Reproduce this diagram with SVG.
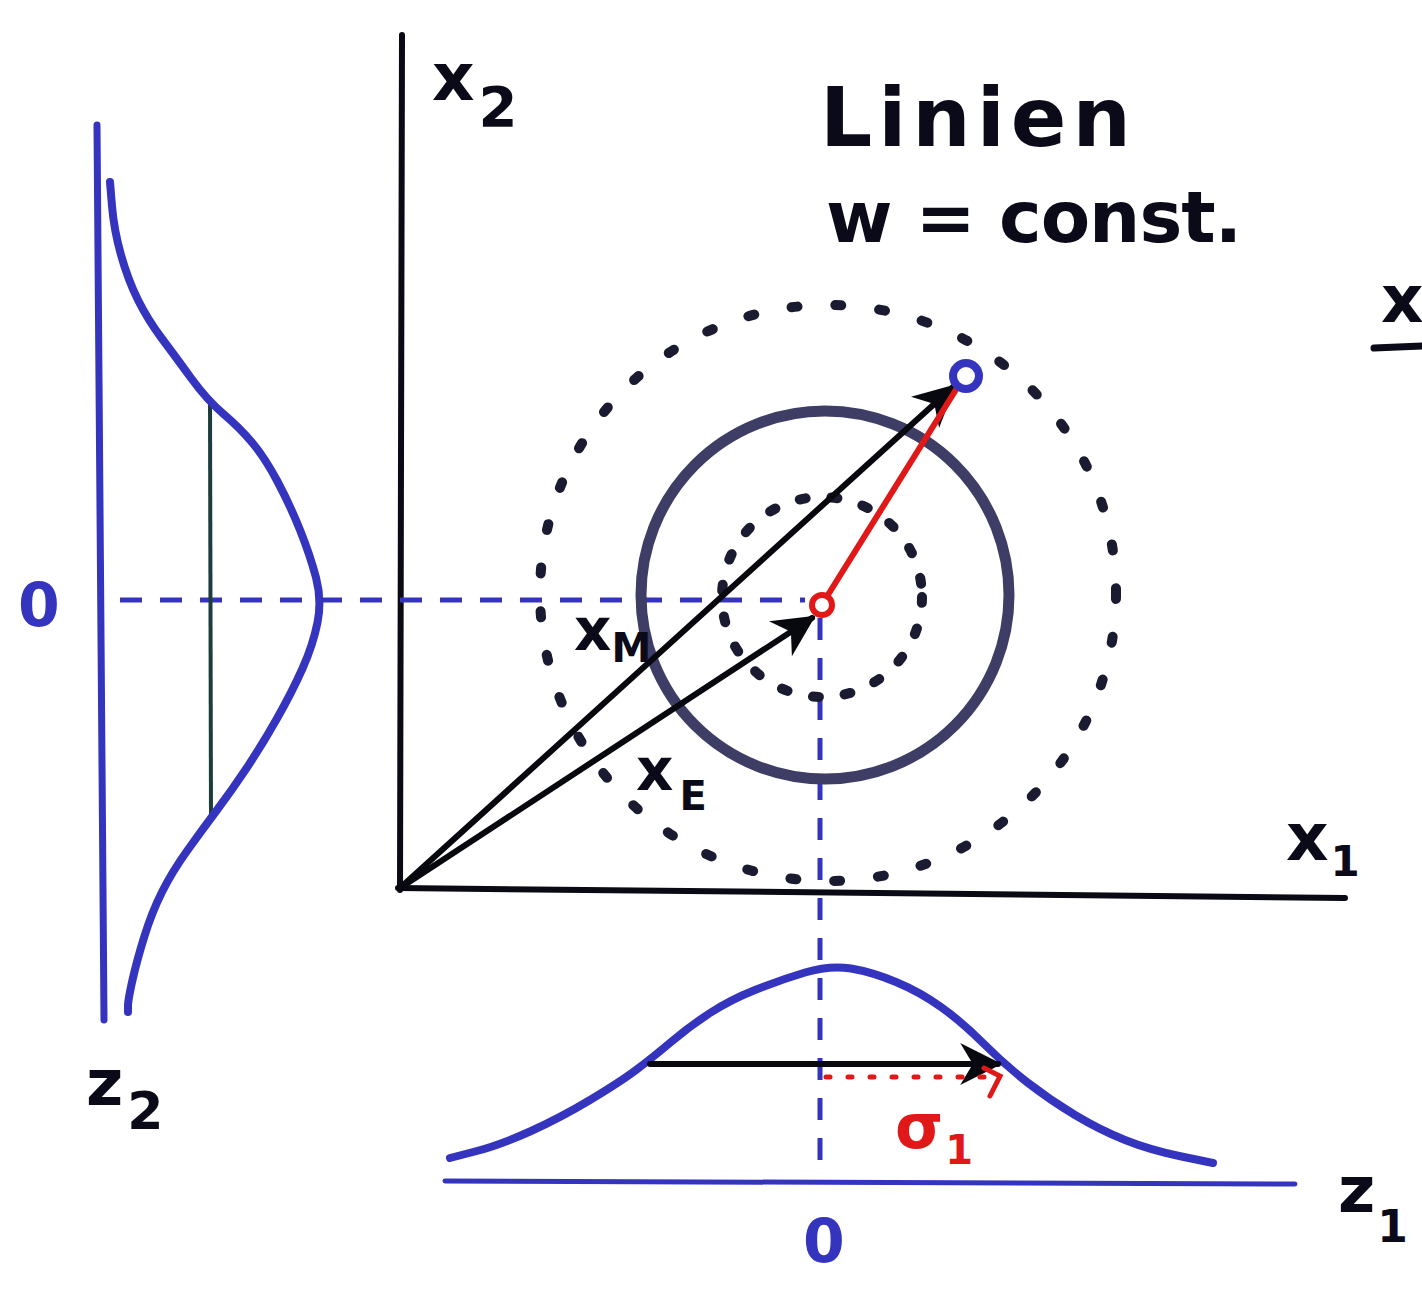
<svg xmlns="http://www.w3.org/2000/svg" width="1422" height="1292" viewBox="0 0 1422 1292">
<defs>
<style>
.ax{stroke:#0a0a14;stroke-width:6;fill:none;stroke-linecap:round}
.blue{stroke:#3434bf;fill:none;stroke-linecap:round;stroke-linejoin:round}
.bdash{stroke:#3434bf;stroke-width:5;fill:none;stroke-dasharray:22 18}
.dots{stroke:#1a1a30;fill:none;stroke-linecap:round}
.vec{stroke:#08080f;stroke-width:6;fill:none;stroke-linecap:round}
.t{font-family:"DejaVu Sans","Liberation Sans",sans-serif;font-weight:bold;fill:#0a0a18}
.tb{font-family:"DejaVu Sans","Liberation Sans",sans-serif;font-weight:bold;fill:#3434bf}
.tr{font-family:"DejaVu Sans","Liberation Sans",sans-serif;font-weight:bold;fill:#e01818}
</style>
<marker id="ah" viewBox="0 0 10 10" refX="9" refY="5" markerWidth="7" markerHeight="7" markerUnits="strokeWidth" orient="auto">
<path d="M0,0 L10,5 L0,10 L3,5 Z" fill="#08080f"/>
</marker>
</defs>
<rect width="1422" height="1292" fill="#ffffff"/>

<g id="axes">
<line class="ax" x1="402" y1="35" x2="400" y2="890"/>
<line class="ax" x1="398" y1="888" x2="1345" y2="898"/>
</g>

<g id="guides">
<line class="bdash" x1="120" y1="600" x2="805" y2="600"/>
<line class="bdash" x1="820" y1="618" x2="820" y2="1175"/>
</g>

<g id="circles">
<circle class="dots" cx="828" cy="593" r="288" stroke-width="10" stroke-dasharray="6 38"/>
<circle cx="825" cy="595" r="184" fill="none" stroke="#3d3d66" stroke-width="11"/>
<circle class="dots" cx="822" cy="597" r="100" stroke-width="10" stroke-dasharray="6 26"/>
</g>

<g id="z2-distribution">
<line x1="97" y1="125" x2="104" y2="1020" class="blue" stroke-width="7"/>
<line x1="210" y1="402" x2="211" y2="820" stroke="#1d3c3c" stroke-width="4"/>
<path class="blue" stroke-width="8" d="M110,182 L112,206 Q114,230 121,255 Q128,280 138,300 Q148,320 161.5,338 Q175,356 191,378 Q207,400 223.5,414 Q240,428 252.5,443 Q265,458 277.5,481.5 Q290,505 300,530 Q310,555 316,577.5 Q322,600 317.5,622.5 Q313,645 302.5,668.5 Q292,692 277,718.5 Q262,745 247,767.5 Q232,790 217,810 Q202,830 187,851 Q172,872 162,892 Q152,912 144.5,936 Q137,960 132.5,980 Q128,1000 128,1006 L128,1012"/>
<text class="tb" x="18" y="626" font-size="60">0</text>
<text class="t" x="86" y="1105" font-size="64">z<tspan font-size="52" dy="24" dx="4">2</tspan></text>
</g>

<g id="z1-distribution">
<line x1="445" y1="1181" x2="1295" y2="1184" class="blue" stroke-width="5"/>
<path class="blue" stroke-width="8" d="M450,1158 L475,1151.5 Q500,1145 530,1131.5 Q560,1118 590,1100 Q620,1082 636,1070 Q652,1058 671,1042 Q690,1026 710,1013 Q730,1000 755,990 Q780,980 805,972.5 Q830,965 851,968.5 Q872,972 896,982 Q920,992 941,1007 Q962,1022 983.5,1043.5 Q1005,1065 1027.5,1082.5 Q1050,1100 1075,1115 Q1100,1130 1125,1140 Q1150,1150 1181.5,1156.5 L1213,1163"/>
<line x1="650" y1="1064" x2="998" y2="1064" class="vec" stroke-width="6" marker-end="url(#ah)"/>
<line x1="826" y1="1077" x2="990" y2="1077" stroke="#e01818" stroke-width="5" stroke-dasharray="4 18" stroke-linecap="round"/>
<polyline points="984,1068 1000,1076 990,1096" fill="none" stroke="#e01818" stroke-width="5" stroke-linecap="round"/>
<text class="tr" x="895" y="1148" font-size="62">σ<tspan font-size="40" dy="16" dx="2">1</tspan></text>
<text class="tb" x="803" y="1262" font-size="60">0</text>
<text class="t" x="1338" y="1212" font-size="64">z<tspan font-size="44" dy="30" dx="2">1</tspan></text>
</g>

<g id="connectors">
<line class="vec" x1="400" y1="888" x2="953" y2="387" marker-end="url(#ah)"/>
<line class="vec" x1="400" y1="888" x2="812" y2="618" marker-end="url(#ah)"/>
<line x1="826" y1="598" x2="962" y2="380" stroke="#e01818" stroke-width="6" stroke-linecap="round"/>
</g>

<g id="point-E">
<circle cx="822" cy="605" r="10" fill="#ffffff" stroke="#e01818" stroke-width="6"/>
</g>
<g id="point-M">
<circle cx="966" cy="376" r="13" fill="#ffffff" stroke="#3434bf" stroke-width="8"/>
</g>

<g id="labels">
<text class="t" x="432" y="100" font-size="66">x<tspan font-size="56" dy="26" dx="4">2</tspan></text>
<text class="t" x="1286" y="860" font-size="66">x<tspan font-size="42" dy="16" dx="2">1</tspan></text>
<text class="t" x="574" y="650" font-size="58">x<tspan font-size="40" dy="12">M</tspan></text>
<text class="t" x="636" y="790" font-size="58">x<tspan font-size="40" dy="20" dx="6">E</tspan></text>
<text class="t" x="820" y="146" font-size="82" letter-spacing="6" fill="#1e1e40">Linien</text>
<text class="t" x="826" y="242" font-size="72" letter-spacing="-1" fill="#1e1e40">w = const.</text>
<text class="t" x="1381" y="322" font-size="66">x</text>
<line x1="1374" y1="348" x2="1422" y2="346" stroke="#0a0a18" stroke-width="7" stroke-linecap="round"/>
</g>
</svg>
